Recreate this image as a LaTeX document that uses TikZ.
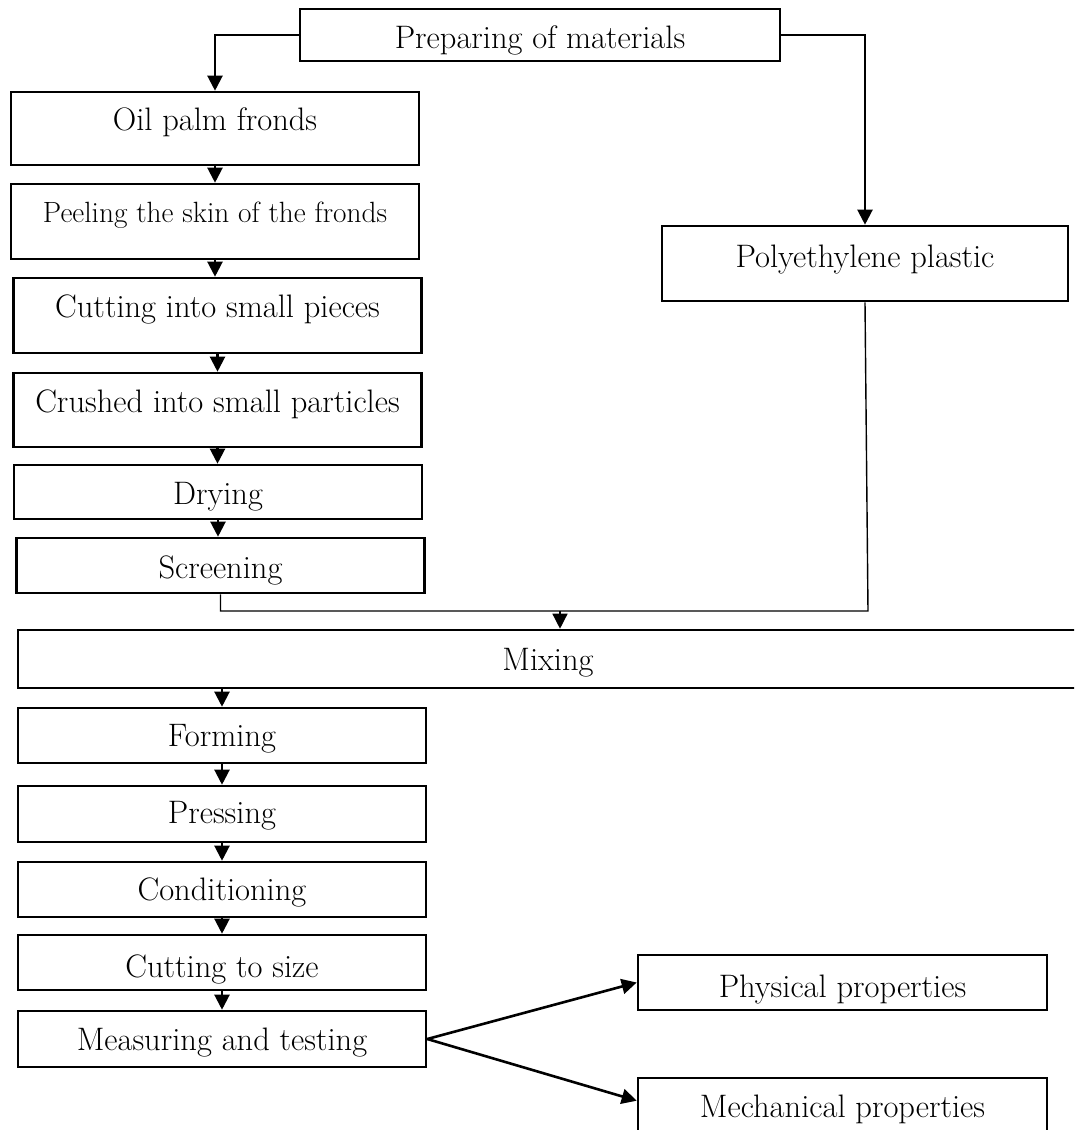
\documentclass[tikz,border=0pt]{standalone}
\usepackage{tikz}
\usetikzlibrary{arrows.meta,calc}

\tikzset{
  stage/.style={draw, line width=2.6pt, inner sep=0pt, font=\fontsize{32.5}{38}\selectfont},
  col/.style={stage, minimum width=408pt},
  flow/.style={-{Triangle[width=15pt,length=15pt]}, line width=2.2pt},
  link/.style={line width=1.4pt}
}

\begin{document}
\begin{tikzpicture}[x=1pt,y=-1pt]
  \clip (0,0) rectangle (1074,1130);
  % Materials
  \node[stage, minimum width=480pt, text height=39pt, text depth=13pt] (prep) at (540,35) {Preparing of materials};
  \node[stage, minimum width=406pt, text height=41pt, text depth=34pt] (poly) at (865,263.5) {Polyethylene plastic};
  % Fronds column
  \node[col, text height=38pt, text depth=35pt] (oil)    at (215,128.5) {Oil palm fronds};
  \node[col, text height=38pt, text depth=37pt, font=\fontsize{29.3}{35}\selectfont] (peel) at (215,221.5) {Peeling the skin of the fronds};
  \node[col, text height=39pt, text depth=36pt] (cutp)   at (217.5,315.5) {Cutting into small pieces};
  \node[col, text height=39pt, text depth=35pt] (crush)  at (217.5,410) {Crushed into small particles};
  \node[col, text height=39pt, text depth=15pt] (dry)    at (218,492) {Drying};
  \node[col, text height=40pt, text depth=15pt] (screen) at (220.5,565.5) {Screening};
  % Mixing
  \node[stage, minimum width=1060pt, text height=40pt, text depth=18pt] (mix) at (548,659) {Mixing};
  % Board column
  \node[col, text height=38pt, text depth=17pt] (form)  at (222,735.5) {Forming};
  \node[col, text height=37pt, text depth=19pt] (press) at (222,814) {Pressing};
  \node[col, text height=38pt, text depth=17pt] (cond)  at (222,889.5) {Conditioning};
  \node[col, text height=42pt, text depth=13pt] (cuts)  at (222,962.5) {Cutting to size};
  \node[col, text height=39pt, text depth=17pt] (meas)  at (222,1039) {Measuring and testing};
  % Properties
  \node[col, minimum width=409pt, text height=42pt, text depth=13pt] (phys) at (842.5,982.5) {Physical properties};
  \node[col, minimum width=409pt, text height=39pt, text depth=43pt] (mech) at (842.5,1119) {Mechanical properties};
  % Connectors
  \draw[flow] (prep.west) -| (oil.north);
  \draw[flow] (prep.east) -| (poly.north);
  \foreach \a/\b in {oil/peel, peel/cutp, cutp/crush, crush/dry, dry/screen, form/press, press/cond, cond/cuts, cuts/meas}
    \draw[flow] (\a.south) -- (\a.south |- \b.north);
  \coordinate (join) at (868,611);
  \coordinate (feed) at (560,611);
  \draw[link] (screen.south) |- (join) -- (poly.south);
  \draw[flow, line width=1.4pt] (feed) -- (feed |- mix.north);
  \draw[flow] (form.north |- mix.south) -- (form.north);
  \draw[flow, line width=2.6pt] (meas.east) -- (phys.west);
  \draw[flow, line width=2.6pt] (meas.east) -- ($(mech.north west)+(0,24)$);
\end{tikzpicture}
\end{document}
